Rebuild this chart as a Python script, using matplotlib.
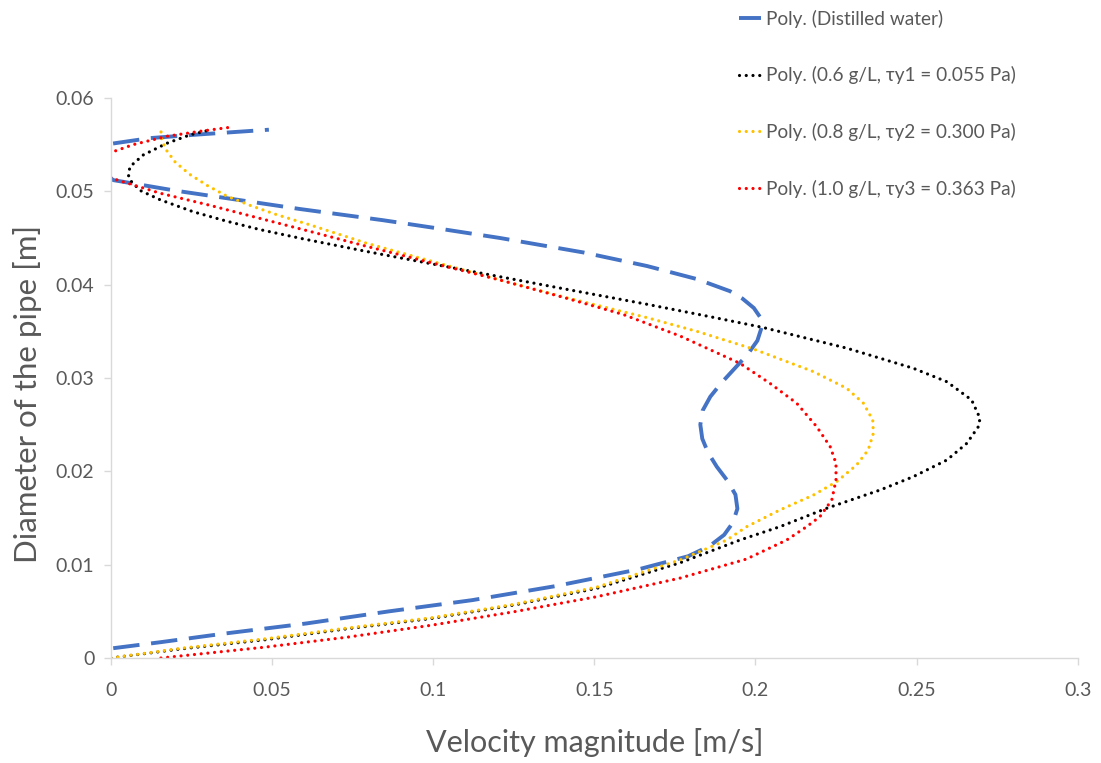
import matplotlib.pyplot as plt
import numpy as np

plt.rcParams['font.family'] = ['Lato', 'DejaVu Sans']

# Velocity (x) and pipe diameter (y) read along each polynomial trendline
water_v = [0.0007, 0.0155, 0.0348, 0.0606, 0.0863, 0.1121, 0.1379, 0.1637, 0.1791, 0.1858,
           0.1903, 0.1930, 0.1944, 0.1938, 0.1913, 0.1880, 0.1853, 0.1835, 0.1829, 0.1836,
           0.1860, 0.1895, 0.1935, 0.1975, 0.2006, 0.2020, 0.2015, 0.1995, 0.1960, 0.1921,
           0.1818, 0.1663, 0.1466, 0.1207, 0.1000, 0.0845, 0.0587, 0.0411, 0.0204, 0.0007,
           -0.0060, 0.0002, 0.0121, 0.0276, 0.0490]
water_d = [0.00105, 0.0017, 0.0026, 0.0037, 0.0050, 0.0062, 0.0077, 0.0095, 0.0109, 0.0120,
           0.0132, 0.0145, 0.0160, 0.0175, 0.0190, 0.0205, 0.0220, 0.0235, 0.0250, 0.0265,
           0.0280, 0.0295, 0.0310, 0.0325, 0.0340, 0.0355, 0.0365, 0.0375, 0.0385, 0.0393,
           0.0406, 0.0420, 0.04345, 0.0450, 0.0461, 0.0469, 0.0481, 0.0490, 0.05005, 0.0512,
           0.0531, 0.0551, 0.0557, 0.0561, 0.0566]

c06_v = [0.0, 0.0219, 0.0477, 0.0735, 0.0992, 0.1250, 0.1508, 0.1766, 0.1952, 0.2076,
         0.2221, 0.2387, 0.2490, 0.2594, 0.2656, 0.2692, 0.2697, 0.2671, 0.2594, 0.2490,
         0.2283, 0.2025, 0.1869, 0.1663, 0.1414, 0.1207, 0.1000, 0.0794, 0.0597, 0.0462,
         0.0359, 0.0256, 0.0152, 0.0090, 0.0059, 0.0054, 0.0059, 0.0100, 0.0173, 0.0245, 0.0310]
c06_d = [0.0, 0.00098, 0.00195, 0.00314, 0.00422, 0.00567, 0.00747, 0.0102, 0.01264, 0.01407,
         0.01604, 0.0180, 0.01943, 0.02121, 0.0230, 0.02479, 0.02568, 0.02764, 0.0296, 0.03104,
         0.0332, 0.0354, 0.0365, 0.0379, 0.0395, 0.04085, 0.0422, 0.04355, 0.0449, 0.0459,
         0.0468, 0.0478, 0.0491, 0.0501, 0.0512, 0.05175, 0.05264, 0.05389, 0.05514, 0.05604, 0.0566]

c08_v = [0.0, 0.0219, 0.0477, 0.0735, 0.0992, 0.1250, 0.1508, 0.1766, 0.1911, 0.1973,
         0.2076, 0.2180, 0.2252, 0.2314, 0.2350, 0.2366, 0.2364, 0.2335, 0.2283, 0.2180,
         0.1994, 0.1818, 0.1663, 0.1414, 0.1207, 0.1000, 0.0794, 0.0618, 0.0514, 0.0431,
         0.0359, 0.0300, 0.0245, 0.0200, 0.0170, 0.0157, 0.0155]
c08_d = [0.0, 0.00105, 0.00205, 0.00322, 0.0043, 0.00575, 0.0076, 0.0105, 0.01264, 0.01407,
         0.01586, 0.01746, 0.01889, 0.02068, 0.02229, 0.02408, 0.0255, 0.0273, 0.0289, 0.03068,
         0.0331, 0.0350, 0.03647, 0.0386, 0.0405, 0.04246, 0.04443, 0.0464, 0.0475, 0.0485,
         0.0495, 0.0506, 0.0518, 0.0531, 0.0545, 0.0556, 0.0565]

c10_v = [0.0155, 0.0477, 0.0735, 0.0992, 0.1250, 0.1508, 0.1766, 0.1972, 0.2097, 0.2159,
         0.2200, 0.2237, 0.2250, 0.2250, 0.2232, 0.2190, 0.2128, 0.2045, 0.1952, 0.1766,
         0.1590, 0.1414, 0.1207, 0.1000, 0.0794, 0.0618, 0.0462, 0.0307, 0.0152, 0.0002,
         -0.0040, 0.0007, 0.0069, 0.0173, 0.0276, 0.0370]
c10_d = [0.0, 0.00116, 0.00224, 0.0035, 0.00495, 0.00657, 0.00856, 0.0106, 0.01264, 0.01407,
         0.01514, 0.01693, 0.01907, 0.02086, 0.02264, 0.02479, 0.0273, 0.02943, 0.03157, 0.0345,
         0.0368, 0.03854, 0.0405, 0.04229, 0.0441, 0.0457, 0.0471, 0.0485, 0.0498, 0.0514,
         0.0528, 0.05425, 0.0550, 0.05589, 0.05643, 0.05686]

labels = ['Poly. (Distilled water)',
          'Poly. (0.6 g/L, τy1 = 0.055 Pa)',
          'Poly. (0.8 g/L, τy2 = 0.300 Pa)',
          'Poly. (1.0 g/L, τy3 = 0.363 Pa)']

fig = plt.figure(figsize=(11.01, 7.63), dpi=100)
ax = fig.add_axes([0.1008, 0.1376, 0.878, 0.734])

l1, = ax.plot(water_v, water_d, color='#4472C4', lw=2.8, dashes=(6.8, 3.0))
dot = dict(lw=2.3, dashes=(0.01, 2.1), dash_capstyle='round')
l2, = ax.plot(c06_v, c06_d, color='black', **dot)
l3, = ax.plot(c08_v, c08_d, color='#FFC000', **dot)
l4, = ax.plot(c10_v, c10_d, color='#FF0000', **dot)

ax.set_xlim(0, 0.3)
ax.set_ylim(0, 0.06)
ax.set_xticks(np.arange(0, 0.301, 0.05))
ax.set_xticklabels(['0', '0.05', '0.1', '0.15', '0.2', '0.25', '0.3'])
ax.set_yticks(np.arange(0, 0.061, 0.01))
ax.set_yticklabels(['0', '0.01', '0.02', '0.03', '0.04', '0.05', '0.06'])

for s in ['top', 'right']:
    ax.spines[s].set_visible(False)
for s in ['left', 'bottom']:
    ax.spines[s].set_color('#D9D9D9')
    ax.spines[s].set_linewidth(1.0)
ax.tick_params(colors='#D9D9D9', labelcolor='#595959', labelsize=14, length=5, width=1)
ax.tick_params(axis='x', pad=12)
ax.tick_params(axis='y', pad=7)

ax.set_xlabel('Velocity magnitude [m/s]', fontsize=22, color='#595959', labelpad=21)
ax.set_ylabel('Diameter of the pipe [m]', fontsize=22.5, color='#595959')
ax.yaxis.set_label_coords(-0.071, 0.471)

leg = fig.legend([l1, l2, l3, l4], labels, loc='upper left',
                 bbox_to_anchor=(0.6553, 1.01), frameon=False, fontsize=13.7,
                 labelcolor='#595959', handlelength=1.2, handletextpad=0.25,
                 labelspacing=2.03)

plt.savefig('out.png', dpi=100)
